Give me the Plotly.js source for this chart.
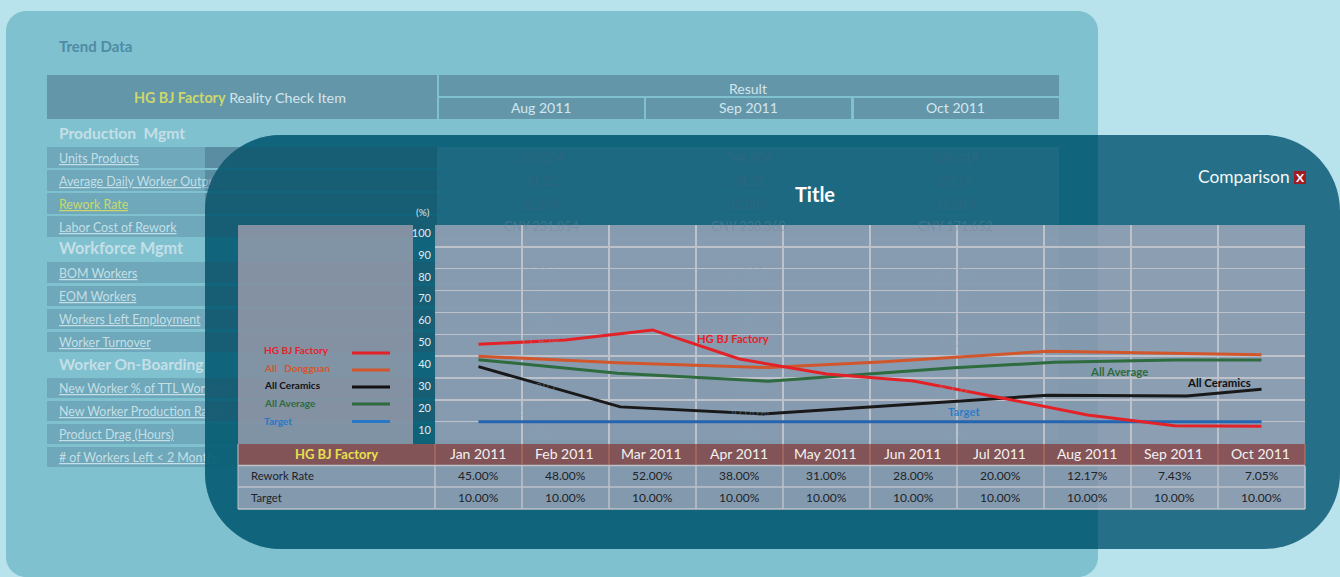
<!DOCTYPE html>
<html>
<head>
<meta charset="utf-8">
<script src="https://cdn.plot.ly/plotly-3.0.1.min.js"></script>
<style>
html,body{margin:0;padding:0;background:#B8E3EC;overflow:hidden}
#back,#front{position:absolute;left:0;top:0;width:1340px;height:577px}
</style>
</head>
<body>
<div id="back"></div>
<div id="front"></div>
<script>
// ---------- chart data ----------
const months = ['Jan 2011','Feb 2011','Mar 2011','Apr 2011','May 2011','Jun 2011','Jul 2011','Aug 2011','Sep 2011','Oct 2011'];
const reworkRate = ['45.00%','48.00%','52.00%','38.00%','31.00%','28.00%','20.00%','12.17%','7.43%','7.05%'];
const targetRate = ['10.00%','10.00%','10.00%','10.00%','10.00%','10.00%','10.00%','10.00%','10.00%','10.00%'];
const yTicks = [10,20,30,40,50,60,70,80,90,100];

const factoryX = [0,1,2,3,4,5,6,7,8,9];
const factoryY = [45.4,47.4,52,38.7,31.8,28.6,21,13.1,8.2,7.9];
const dongguanX = [0,1.6,3.33,4.62,6.54,8,9];
const dongguanY = [40.0,37.0,34.8,37.3,42.2,41.1,40.6];
const ceramicsX = [0,1.63,3.27,6.54,8.14,9];
const ceramicsY = [35.2,16.8,13.5,22.1,21.8,24.9];
const averageX = [0,1.6,3.33,5.47,6.62,8,9];
const averageY = [38.4,32.2,28.5,34.7,37.2,38.3,38.3];
const targetX = [0,9];
const targetY = [10,10];

// ---------- text behind the comparison panel ----------
const resultMonths = ['Aug 2011','Sep 2011','Oct 2011'];
const productionItems = ['Units Products','Average Daily Worker Output','Rework Rate','Labor Cost of Rework'];
const workforceItems = ['BOM Workers','EOM Workers','Workers Left Employment','Worker Turnover'];
const onboardingItems = ['New Worker % of TTL Workers','New Worker Production Rate','Product Drag (Hours)','# of Workers Left < 2 Months'];
const augValues = ['610,234','21.22','32.29%','CNY 231,854','1,296','1,233','150','11.82%','7,887','50.00%','520'];
const sepValues = ['744,904','24.32','32.00%','CNY 238,360','1,233','1,185','88','','3,383','50.00%','320'];
const octValues = ['536,414','23.14','32.00%','CNY 171,652','1,176','1,178','87','7.12%','5,157','50.00%','410'];

// ---------- page geometry helpers ----------
const W = 1340, H = 577, FONT = 'Lato, Carlito, sans-serif';
const px = x => x / W, py = y => 1 - y / H;
const rect = (x0,y0,x1,y1,fill) => ({type:'rect',xref:'paper',yref:'paper',x0:px(x0),x1:px(x1),y0:py(y1),y1:py(y0),fillcolor:fill,line:{width:0},layer:'below'});
const seg = (x0,y0,x1,y1,color,width) => ({type:'line',xref:'paper',yref:'paper',x0:px(x0),x1:px(x1),y0:py(y0),y1:py(y1),line:{color:color,width:width},layer:'below'});
const txt = (x,y,text,size,color,anchor) => ({xref:'paper',yref:'paper',x:px(x),y:py(y),text:text,showarrow:false,
  xanchor:anchor||'center',yanchor:'middle',borderpad:0,borderwidth:0,font:{family:FONT,size:size,color:color}});
const P = (x,y) => px(x)+','+py(y);
const K = 0.45;
const roundRect = (x0,y0,x1,y1,rl,rr,fill) => {
  const kl = rl*K, kr = rr*K;
  let s = 'M'+P(x0+rl,y0)+' L'+P(x1-rr,y0);
  if (rr) s += ' C'+P(x1-kr,y0)+' '+P(x1,y0+kr)+' '+P(x1,y0+rr);
  s += ' L'+P(x1,y1-rr);
  if (rr) s += ' C'+P(x1,y1-kr)+' '+P(x1-kr,y1)+' '+P(x1-rr,y1);
  s += ' L'+P(x0+rl,y1);
  if (rl) s += ' C'+P(x0+kl,y1)+' '+P(x0,y1-kl)+' '+P(x0,y1-rl);
  s += ' L'+P(x0,y0+rl);
  if (rl) s += ' C'+P(x0,y0+kl)+' '+P(x0+kl,y0)+' '+P(x0+rl,y0);
  return {type:'path',xref:'paper',yref:'paper',layer:'below',fillcolor:fill,line:{width:0},path:s+' Z'};
};

const colCenters = [541,748,955];
const rowBands = [[147,168],[170,191],[193,214],[216,237],[262,283],[286,306],[309,329],[332,352],[378,398],[401,421],[424,444],[447,467]];
const labelY = [158,181,204,227,273,296,319,342,388,411,434,457];

// ---------- back sheet: Trend Data ----------
const backShapes = [
  roundRect(6,11,1098,577,20,20,'#80C1D0'),
  rect(47,75,437,119,'#6496AA'),
  rect(439,75,1059,96,'#6496AA'),
  rect(439,98,644,119,'#6496AA'),
  rect(646,98,851,119,'#6496AA'),
  rect(854,98,1059,119,'#6496AA')
];
rowBands.forEach(b => backShapes.push(rect(47,b[0],1059,b[1],'#6EA8BA')));
const LIGHT = '#C4DFE7';
const backNotes = [
  txt(59,46.5,'<b>Trend Data</b>',15,'#4F8BA5','left'),
  txt(240,97,'<b><span style="color:#CCD86A">HG BJ Factory</span></b> Reality Check Item',14.3,'#D3E6EC'),
  txt(748,88,'Result',14,'#D3E6EC'),
  txt(59,132.5,'<b>Production  Mgmt</b>',15.6,LIGHT,'left'),
  txt(59,248,'<b>Workforce Mgmt</b>',16.2,LIGHT,'left'),
  txt(59,364,'<b>Worker On-Boarding</b>',15.5,LIGHT,'left')
];
resultMonths.forEach((m,i) => backNotes.push(txt(colCenters[i],108,m,14,'#D3E6EC')));
productionItems.concat(workforceItems,onboardingItems).forEach((t,i) => {
  const safe = t.replace('<','&lt;');
  backNotes.push(txt(59,labelY[i],'<u>'+safe+'</u>',12.4,t==='Rework Rate'?'#CCD86A':LIGHT,'left'));
});
Plotly.newPlot('back',[],{
  width:W,height:H,margin:{l:0,r:0,t:0,b:0},paper_bgcolor:'#B8E3EC',plot_bgcolor:'rgba(0,0,0,0)',
  xaxis:{visible:false},yaxis:{visible:false},shapes:backShapes,annotations:backNotes,showlegend:false
},{displayModeBar:false,staticPlot:true});

// ---------- front sheet: Comparison ----------
const GRID = '#BDC1CA';
const tableCols = [435,522,609,696,783,870,957,1044,1131,1218,1305];
const frontShapes = [
  roundRect(205,135,1340,549,76,76,'rgba(16,94,122,0.88)'),
  // darker part where the panel lies over the Trend Data sheet
  roundRect(205,135,1098,549,76,0,'rgba(0,93,110,0.45)'),
  rect(437,147,1059,440,'rgba(70,125,155,0.26)')
];
rowBands.forEach(b => {
  if (b[1] < 440) frontShapes.push(rect(205,b[0],437,b[1],'rgba(45,80,105,0.30)'));
});
frontShapes.push(
  rect(238,225,413,444,'rgba(189,174,189,0.65)'),
  rect(435,225,1305,444,'rgba(194,183,202,0.65)'),
  rect(238,444,1305,465,'rgba(161,80,79,0.80)'),
  rect(238,466,1305,509,'rgba(194,183,202,0.65)')
);
[465.5,487,509].forEach(y => frontShapes.push(seg(238,y,1305,y,GRID,1.5)));
frontShapes.push(seg(238,444,238,509,GRID,1));
tableCols.forEach(x => {
  frontShapes.push(seg(x,444,x,465,'rgba(205,130,105,0.8)',1));
  frontShapes.push(seg(x,466,x,509,GRID,1.5));
});
const legendNames = ['HG BJ Factory','All   Dongguan','All Ceramics','All Average','Target'];
const legendColors = ['#E32228','#D2562B','#111111','#2E6B3E','#2878C8'];
const lineColors = ['#E32228','#D2562B','#191919','#2E6B3E','#2464B0'];
const legendTextY = [349.5,367.5,385,402.5,420.5];
const legendLineY = [353,370,387,404,421.5];
legendNames.forEach((n,i) => frontShapes.push(seg(352,legendLineY[i],390,legendLineY[i],legendColors[i],3)));
frontShapes.push(rect(1294,171,1306,184,'#A01C22'));

const frontNotes = [
  txt(423,212,'(%)',10,'#DCE8EC'),
  txt(1198,176.5,'Comparison',17.4,'#F2F7F8','left'),
  txt(1300,177.5,'<b>X</b>',12,'#FFFFFF'),
  txt(336,453.5,'<b>HG BJ Factory</b>',13,'#E6E050'),
  txt(251,475.5,'Rework Rate',11.3,'#1E2328','left'),
  txt(251,497.5,'Target',11.3,'#1E2328','left'),
  txt(733,338,'<b>HG BJ Factory</b>',11.2,'#E32228'),
  txt(1119,371,'<b>All Average</b>',11.4,'#2E6B3E'),
  txt(1219,382.5,'<b>All Ceramics</b>',11.4,'#111111'),
  txt(964,411,'<b>Target</b>',11.4,'#2878C8')
];
legendNames.forEach((n,i) => frontNotes.push(txt(264,legendTextY[i],'<b>'+n+'</b>',10,legendColors[i],'left')));
months.forEach((m,i) => {
  const c = (tableCols[i]+tableCols[i+1])/2;
  frontNotes.push(txt(c-1,453.5,m,14,'#F2F2F2'));
  frontNotes.push(txt(c,475.5,reworkRate[i],12,'#1E2328'));
  frontNotes.push(txt(c,497.5,targetRate[i],12,'#1E2328'));
});
const ghostY = [158,181,204,226,273,296,319,342,388,411,434];
ghostY.forEach((y,i) => {
  [augValues,sepValues,octValues].forEach((vals,k) => {
    if (!vals[i]) return;
    const color = i < 3 ? 'rgba(60,100,125,0.55)' : i === 3 ? 'rgba(105,135,155,0.45)' : 'rgba(125,165,185,0.38)';
    frontNotes.push(txt(colCenters[k],y,vals[i],12.5,color));
  });
});

const line = (x,y,name,c) => ({type:'scatter',mode:'lines',x:x,y:y,name:name,hoverinfo:'skip',line:{color:c,width:3,shape:'linear'}});
const traces = [
  line(targetX,targetY,'Target',lineColors[4]),
  line(ceramicsX,ceramicsY,'All Ceramics',lineColors[2]),
  line(averageX,averageY,'All Average',lineColors[3]),
  line(dongguanX,dongguanY,'All Dongguan',lineColors[1]),
  line(factoryX,factoryY,'HG BJ Factory',lineColors[0])
];
Plotly.newPlot('front',traces,{
  width:W,height:H,margin:{l:0,r:0,t:0,b:0,pad:0},paper_bgcolor:'rgba(0,0,0,0)',plot_bgcolor:'rgba(0,0,0,0)',
  showlegend:false,
  title:{text:'<b>Title</b>',x:815/W,y:1-195/H,xref:'paper',yref:'container',xanchor:'center',yanchor:'middle',font:{family:FONT,size:20,color:'#FFFFFF'}},
  xaxis:{domain:[435/W,1305/W],range:[-0.5,9.5],tickmode:'linear',tick0:-0.5,dtick:1,showticklabels:false,ticks:'',
         showgrid:true,gridcolor:GRID,gridwidth:1.5,zeroline:false,showline:false},
  yaxis:{domain:[1-443.6/H,1-225/H],range:[0,100],tickmode:'array',tickvals:yTicks,ticktext:yTicks.map(String),ticks:'',
         ticklabelshift:8,ticklabelstandoff:3,tickfont:{family:FONT,size:11,color:'#E2ECEF'},
         showgrid:true,gridcolor:GRID,gridwidth:1.5,zeroline:false,showline:false},
  shapes:frontShapes,annotations:frontNotes
},{displayModeBar:false,staticPlot:true});
</script>
</body>
</html>
